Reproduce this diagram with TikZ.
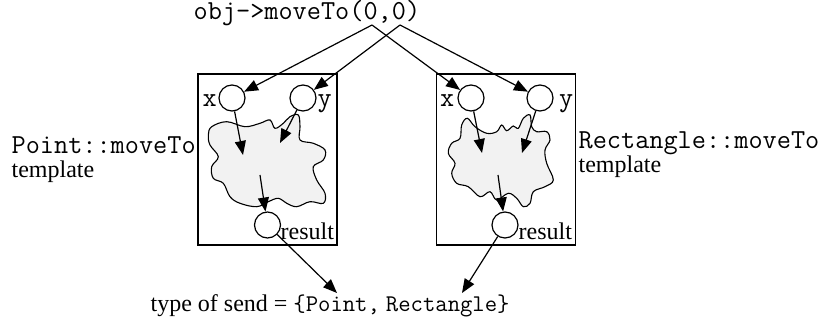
\documentclass[tikz,border=0pt]{standalone}
\usepackage{fontspec}
\setmainfont{Liberation Serif}
\usetikzlibrary{arrows.meta}
\begin{document}
\begin{tikzpicture}[x=1pt,y=-1pt,
  line width=1.2pt,
  lbl/.style={inner sep=0pt, anchor=base west, font=\fontsize{24}{28}\selectfont},
  code/.style={lbl, font=\fontsize{27.5}{30}\selectfont\ttfamily},
  port/.style={circle, draw, fill=white, minimum size=26pt, inner sep=0pt},
  tmpl/.style={draw, inner sep=0pt, minimum width=139pt, minimum height=171pt},
  blob/.style={draw, fill=black!5, line width=1.1pt},
  arr/.style={-{Triangle[length=14pt,width=11pt]}},
]
\useasboundingbox (0,0) rectangle (827,320);

% call site
\node[code] (call) at (193,20) {obj->moveTo(0,0)};
\coordinate (callA) at (372,25);
\coordinate (callB) at (400,25);

% template boxes
\node[tmpl] (pbox) at (267.5,159.5) {};
\node[tmpl] (rbox) at (506,159.5) {};

% body of Point::moveTo
\draw[blob] plot[smooth cycle, tension=0.6] coordinates {
  (211.7,126.7) (226.7,121.7) (245,126.7) (260,123.3) (270,120) (275,128.3)
  (283.3,123.3) (290,116.7) (298.3,115) (300,126.7) (300,140) (313.3,143.3)
  (325,150) (323.3,160) (313.3,166.7) (316.7,180) (325,193.3) (323.3,203.3)
  (310,201.7) (296.7,206.7) (286.7,203.3) (278.3,198.3) (268.3,201.7)
  (256.7,206.7) (240,203.3) (230,196.7) (223.3,183.3) (213.3,178.3)
  (211.7,166.7) (218.3,156.7) (210,145) (208.3,135)};

% body of Rectangle::moveTo
\draw[blob] plot[smooth cycle, tension=0.6] coordinates {
  (461.7,125) (467.3,118.3) (475,126.7) (486.7,133.3) (496.7,131.7)
  (501.7,125) (506.7,130.7) (513.3,126) (518.3,128.3) (523.3,118.3)
  (530,115) (531.7,126.7) (536.7,131.7) (546.7,131.7) (550,140) (545,150)
  (546.7,163.3) (553.3,180) (545,186.7) (533.3,191.7) (530,203.3)
  (523.3,206.7) (516.7,198.3) (508.3,193.3) (496.7,200) (490,191.7)
  (480,196.7) (468.3,186.7) (456.7,183.3) (451.7,173.3) (455,163.3)
  (448.3,153.3) (451.7,143.3) (460,138.3)};

% ports
\node[port] (px) at (232,98) {};
\node[port] (py) at (303,98) {};
\node[port] (pr) at (267.5,225) {};
\node[port] (rx) at (471,98) {};
\node[port] (ry) at (540,98) {};
\node[port] (rr) at (505,225) {};

\node[code] (pxl) at (202,107) {x};
\node[code] (pyl) at (317,107) {y};
\node[lbl]  (prl) at (280,240) {result};
\node[code] (rxl) at (439.5,107) {x};
\node[code] (ryl) at (558.5,107) {y};
\node[lbl]  (rrl) at (518,240) {result};

% template names
\node[code] (pname) at (11,154) {Point::moveTo};
\node[lbl]  (ptag)  at (11,178) {template};
\node[code] (rname) at (578,149) {Rectangle::moveTo};
\node[lbl]  (rtag)  at (578,173) {template};

% result type
\node[lbl] (sendtype) at (150,311) {type of send = {\ttfamily\{Point,} {\ttfamily Rectangle\}}};
\coordinate (sendP) at (337,293);
\coordinate (sendR) at (462,293);

% inner flow points
\coordinate (pxin) at (243,155);
\coordinate (pyin) at (280,143);
\coordinate (pout) at (260,175);
\coordinate (rxin) at (482,153);
\coordinate (ryin) at (522,153);
\coordinate (rout) at (498,175);

% connectors
\draw[arr] (callA) -- (px);
\draw[arr] (callA) -- (rx);
\draw[arr] (callB) -- (py);
\draw[arr] (callB) -- (ry);

\draw[arr] (px) -- (pxin);
\draw[arr] (py) -- (pyin);
\draw[arr] (pout) -- (pr);
\draw[arr] (rx) -- (rxin);
\draw[arr] (ry) -- (ryin);
\draw[arr] (rout) -- (rr);

\draw[arr] (pr) -- (sendP);
\draw[arr] (rr) -- (sendR);
\end{tikzpicture}
\end{document}
